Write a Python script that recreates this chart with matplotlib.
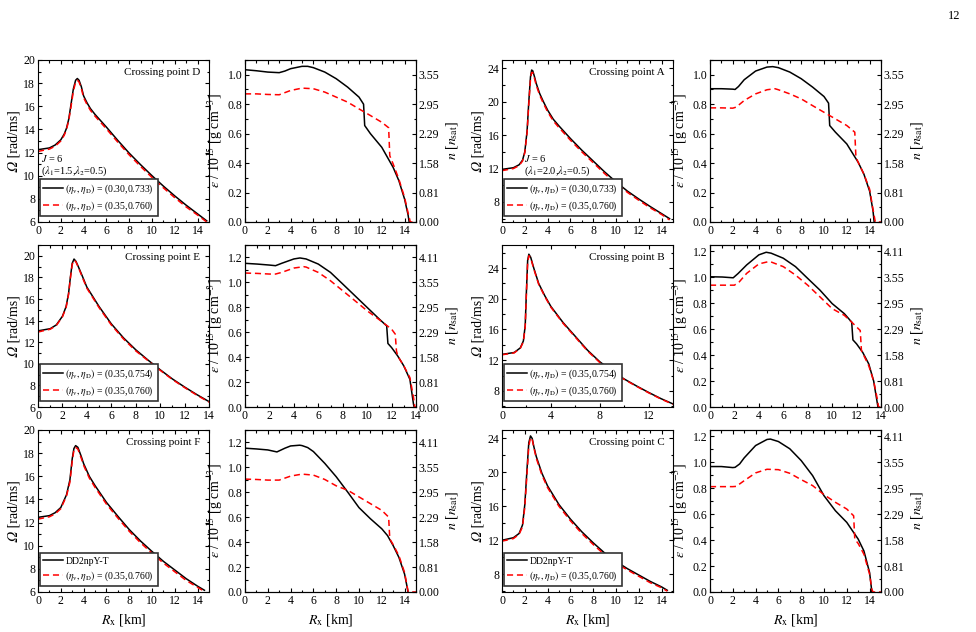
import matplotlib
matplotlib.use('Agg')
import matplotlib.pyplot as plt
from matplotlib.ticker import MultipleLocator, AutoMinorLocator, FormatStrFormatter

plt.rcParams['font.family'] = ['Liberation Serif', 'STIXGeneral', 'DejaVu Serif']
plt.rcParams['mathtext.fontset'] = 'stix'

# ---------------- Omega data ----------------
omD_x = [0, 1, 1.5, 2, 2.3, 2.5, 2.7, 2.9, 3.1, 3.3, 3.45, 3.6, 3.8, 4.0, 4.3, 4.6, 5, 5.5, 6, 7, 8, 9, 10, 11, 12, 13, 14, 14.8]
omD_k = [12.25, 12.4, 12.65, 13.1, 13.6, 14.1, 14.9, 16.2, 17.5, 18.25, 18.4, 18.25, 17.7, 16.9, 16.3, 15.8, 15.3, 14.75, 14.2, 13.05, 11.95, 10.95, 10.0, 9.1, 8.25, 7.45, 6.7, 6.1]
omD_r = [12.1, 12.3, 12.55, 13.0, 13.5, 14.0, 14.8, 16.0, 17.3, 18.1, 18.25, 18.1, 17.55, 16.75, 16.15, 15.65, 15.15, 14.6, 14.05, 12.9, 11.8, 10.8, 9.85, 8.95, 8.1, 7.3, 6.6, 6.0]

omA_x = [0, 1, 1.5, 1.8, 2.0, 2.2, 2.35, 2.5, 2.6, 2.7, 2.85, 3.0, 3.3, 3.6, 4.0, 4.5, 5, 6, 7, 8, 9, 10, 11, 12, 13, 14, 14.7]
omA_k = [11.9, 12.1, 12.45, 13.0, 14.0, 16.5, 20.0, 23.0, 23.8, 23.7, 23.0, 22.2, 21.0, 20.1, 19.0, 17.9, 17.1, 15.6, 14.2, 12.9, 11.6, 10.4, 9.3, 8.35, 7.45, 6.6, 6.0]
omA_r = [11.75, 12.0, 12.35, 12.9, 13.9, 16.3, 19.7, 22.7, 23.5, 23.5, 22.8, 22.0, 20.8, 19.9, 18.8, 17.7, 16.9, 15.4, 14.0, 12.7, 11.4, 10.2, 9.15, 8.2, 7.3, 6.5, 5.85]

omE_x = [0, 1, 1.5, 2, 2.3, 2.5, 2.65, 2.8, 2.95, 3.1, 3.3, 3.6, 4, 4.5, 5, 6, 7, 8, 9, 10, 11, 12, 13, 14]
omE_k = [13.05, 13.25, 13.6, 14.4, 15.3, 16.5, 18.0, 19.3, 19.7, 19.5, 19.0, 18.2, 17.1, 16.2, 15.3, 13.7, 12.4, 11.3, 10.35, 9.45, 8.6, 7.85, 7.15, 6.5]
omE_r = [12.95, 13.2, 13.55, 14.35, 15.2, 16.4, 17.9, 19.2, 19.6, 19.45, 18.95, 18.1, 17.0, 16.1, 15.2, 13.6, 12.3, 11.2, 10.3, 9.4, 8.55, 7.8, 7.1, 6.45]

omB_x = [0, 1, 1.5, 1.75, 1.9, 2.0, 2.1, 2.2, 2.35, 2.6, 3, 3.5, 4, 5, 6, 7, 8, 9, 10, 11, 12, 13, 14]
omB_k = [12.75, 13.0, 13.6, 14.5, 16.5, 21.0, 25.0, 25.8, 25.4, 24.0, 22.0, 20.4, 19.0, 16.9, 15.1, 13.3, 11.8, 10.6, 9.55, 8.65, 7.8, 7.0, 6.3]
omB_r = [12.7, 12.95, 13.55, 14.4, 16.3, 20.7, 24.7, 25.6, 25.3, 23.9, 21.9, 20.3, 18.9, 16.8, 15.0, 13.2, 11.7, 10.5, 9.5, 8.6, 7.75, 6.95, 6.25]

omF_x = [0, 1, 1.5, 2, 2.5, 2.8, 3.0, 3.15, 3.3, 3.5, 3.8, 4, 4.5, 5, 6, 7, 8, 9, 10, 11, 12, 13, 14, 14.6]
omF_k = [12.45, 12.6, 12.85, 13.3, 14.4, 15.7, 17.5, 18.4, 18.65, 18.5, 17.7, 17.1, 16.0, 15.2, 13.75, 12.55, 11.4, 10.4, 9.5, 8.65, 7.9, 7.15, 6.5, 6.15]
omF_r = [12.3, 12.5, 12.75, 13.2, 14.3, 15.5, 17.3, 18.25, 18.5, 18.35, 17.55, 16.95, 15.85, 15.05, 13.6, 12.4, 11.25, 10.25, 9.35, 8.5, 7.75, 7.0, 6.4, 6.05]

omC_x = [0, 1, 1.5, 1.8, 2.0, 2.2, 2.35, 2.5, 2.65, 2.8, 3, 3.5, 4, 5, 6, 7, 8, 9, 10, 11, 12, 13, 14, 14.5]
omC_k = [12.0, 12.3, 12.8, 13.8, 16.2, 20.5, 23.5, 24.3, 24.0, 23.0, 21.9, 19.9, 18.4, 16.2, 14.5, 13.0, 11.7, 10.5, 9.5, 8.65, 7.9, 7.15, 6.5, 6.1]
omC_r = [11.9, 12.2, 12.7, 13.6, 15.9, 20.0, 23.1, 24.1, 23.9, 22.9, 21.7, 19.7, 18.2, 16.0, 14.3, 12.8, 11.5, 10.3, 9.3, 8.5, 7.75, 7.0, 6.4, 6.0]

# ---------------- energy density data ----------------
epD_xk = [0, 1, 2, 3, 3.5, 4, 5, 5.5, 6, 7, 8, 9, 10, 10.4, 10.5, 11, 12, 13, 13.5, 14, 14.3, 14.4]
epD_k = [1.034, 1.027, 1.018, 1.014, 1.025, 1.041, 1.057, 1.057, 1.048, 1.018, 0.973, 0.916, 0.848, 0.80, 0.655, 0.60, 0.507, 0.37, 0.28, 0.155, 0.05, 0.0]
epD_xr = [0, 1, 2, 3, 4, 5, 6, 7, 8, 9, 10, 11, 12, 12.6, 12.7, 13, 13.5, 14, 14.3, 14.5, 15]
epD_r = [0.870, 0.870, 0.866, 0.864, 0.893, 0.909, 0.905, 0.882, 0.848, 0.814, 0.768, 0.723, 0.677, 0.64, 0.45, 0.393, 0.29, 0.166, 0.064, 0.0, 0.0]

epA_xk = [0, 1, 2, 2.2, 2.5, 3, 4, 5, 5.5, 6, 7, 8, 9, 10, 10.4, 10.5, 11, 12, 13, 13.5, 14, 14.3, 14.4]
epA_k = [0.905, 0.905, 0.902, 0.90, 0.92, 0.966, 1.025, 1.052, 1.055, 1.048, 1.018, 0.973, 0.916, 0.852, 0.807, 0.655, 0.61, 0.53, 0.405, 0.325, 0.21, 0.075, 0.0]
epA_xr = [0, 1, 2, 2.3, 3, 4, 5, 5.7, 6, 7, 8, 9, 10, 11, 12, 12.7, 12.8, 13, 13.5, 14, 14.3, 14.5, 15]
epA_r = [0.775, 0.775, 0.773, 0.78, 0.825, 0.87, 0.898, 0.905, 0.898, 0.870, 0.836, 0.79, 0.745, 0.70, 0.655, 0.61, 0.44, 0.405, 0.325, 0.223, 0.086, 0.0, 0.0]

epE_xk = [0, 1, 2, 2.5, 3, 4, 4.5, 5, 6, 7, 8, 9, 10, 11, 11.6, 11.7, 12, 12.5, 13, 13.5, 13.8, 13.85]
epE_k = [1.153, 1.147, 1.139, 1.134, 1.153, 1.188, 1.196, 1.188, 1.147, 1.08, 0.987, 0.893, 0.799, 0.705, 0.651, 0.51, 0.477, 0.41, 0.33, 0.222, 0.02, 0.0]
epE_xr = [0, 1, 2, 2.5, 3, 4, 4.8, 5, 6, 7, 8, 9, 10, 11, 12, 12.3, 12.4, 12.5, 13, 13.5, 13.8, 13.9, 14]
epE_r = [1.075, 1.072, 1.067, 1.067, 1.08, 1.115, 1.126, 1.123, 1.08, 1.013, 0.933, 0.853, 0.772, 0.70, 0.625, 0.585, 0.45, 0.41, 0.33, 0.236, 0.075, 0.0, 0.0]

epB_xk = [0, 1, 1.9, 2.3, 3, 4, 4.6, 5, 6, 7, 8, 9, 10, 11, 11.6, 11.7, 12, 12.5, 13, 13.4, 13.75]
epB_k = [1.005, 1.003, 0.997, 1.03, 1.096, 1.174, 1.194, 1.187, 1.148, 1.083, 0.992, 0.902, 0.798, 0.72, 0.655, 0.518, 0.487, 0.422, 0.332, 0.2, 0.0]
epB_xr = [0, 1, 2, 2.4, 3, 4, 4.8, 5, 6, 7, 8, 9, 10, 11, 11.6, 12.3, 12.4, 13, 13.4, 13.7, 13.8, 14]
epB_r = [0.94, 0.94, 0.94, 0.966, 1.031, 1.104, 1.122, 1.119, 1.083, 1.018, 0.94, 0.85, 0.759, 0.707, 0.655, 0.59, 0.435, 0.318, 0.2, 0.06, 0.0, 0.0]

epF_xk = [0, 1, 2, 2.8, 3.5, 4, 4.8, 5, 5.5, 6, 7, 8, 9, 10, 11, 12, 12.5, 13, 13.5, 14, 14.2, 14.3]
epF_k = [1.154, 1.148, 1.14, 1.124, 1.154, 1.172, 1.178, 1.175, 1.159, 1.127, 1.032, 0.925, 0.803, 0.677, 0.588, 0.507, 0.453, 0.372, 0.278, 0.143, 0.05, 0.0]
epF_xr = [0, 1, 2, 3, 4, 5, 6, 7, 8, 9, 10, 11, 12, 12.6, 12.7, 13, 13.5, 14, 14.3, 14.35, 15]
epF_r = [0.906, 0.903, 0.898, 0.898, 0.93, 0.946, 0.938, 0.903, 0.852, 0.817, 0.763, 0.709, 0.655, 0.601, 0.426, 0.38, 0.291, 0.156, 0.008, 0.0, 0.0]

epC_xk = [0, 1, 2, 2.2, 2.6, 3, 4, 5, 5.3, 6, 7, 8, 9, 10, 11, 12, 12.5, 13, 13.5, 14, 14.2]
epC_k = [0.968, 0.968, 0.96, 0.962, 0.988, 1.035, 1.13, 1.177, 1.18, 1.161, 1.105, 1.014, 0.898, 0.743, 0.627, 0.537, 0.472, 0.408, 0.317, 0.15, 0.0]
epC_xr = [0, 1, 2, 2.3, 3, 4, 5, 6, 7, 8, 9, 10, 11, 12, 12.6, 12.7, 13, 13.5, 14, 14.2, 14.3, 15]
epC_r = [0.813, 0.813, 0.813, 0.815, 0.859, 0.919, 0.947, 0.944, 0.916, 0.867, 0.821, 0.751, 0.692, 0.64, 0.588, 0.408, 0.374, 0.292, 0.137, 0.02, 0.0, 0.0]

# ---------------- labels ----------------
n_labels_short = ['0.00', '0.81', '1.58', '2.29', '2.95', '3.55']
n_labels_long = ['0.00', '0.81', '1.58', '2.29', '2.95', '3.55', '4.11']
lab_a = r'$(\eta_{\rm v},\eta_{\rm D})$ = (0.30,0.733)'
lab_b = r'$(\eta_{\rm v},\eta_{\rm D})$ = (0.35,0.754)'
lab_c = 'DD2npY-T'
lab_red = r'$(\eta_{\rm v},\eta_{\rm D})$ = (0.35,0.760)'

W, H = 976, 632
fig = plt.figure(figsize=(W / 100, H / 100), dpi=100)

col_left = [38, 245, 502, 710]
row_top = [60, 245, 430]
aw, ah = 171, 162


def make_ax(r, c):
    l = col_left[c] / W
    b = 1 - (row_top[r] + ah) / H
    return fig.add_axes([l, b, aw / W, ah / H])


def style(ax, right=True):
    ax.tick_params(which='both', direction='in', top=True, right=right, labelsize=8.5,
                   width=0.8, pad=2)
    ax.tick_params(which='major', length=3)
    ax.tick_params(which='minor', length=1.8)
    for s in ax.spines.values():
        s.set_linewidth(0.8)


omega_sets = [
    (omD_x, omD_k, omD_r, (0, 15), 2, (6, 20), 2, lab_a, 'D', 'J15'),
    (omA_x, omA_k, omA_r, (0, 15), 2, (5.6, 25), 4, lab_a, 'A', 'J20'),
    (omE_x, omE_k, omE_r, (0, 14), 2, (6, 21), 2, lab_b, 'E', None),
    (omB_x, omB_k, omB_r, (0, 14), 4, (5.9, 27), 4, lab_b, 'B', None),
    (omF_x, omF_k, omF_r, (0, 15), 2, (6, 20), 2, lab_c, 'F', None),
    (omC_x, omC_k, omC_r, (0, 15), 2, (5.9, 25), 4, lab_c, 'C', None),
]
eps_sets = [
    (epD_xk, epD_k, epD_xr, epD_r, (0, 15), (0, 1.1), n_labels_short),
    (epA_xk, epA_k, epA_xr, epA_r, (0, 15), (0, 1.1), n_labels_short),
    (epE_xk, epE_k, epE_xr, epE_r, (0, 14), (0, 1.3), n_labels_long),
    (epB_xk, epB_k, epB_xr, epB_r, (0, 14), (0, 1.25), n_labels_long),
    (epF_xk, epF_k, epF_xr, epF_r, (0, 15), (0, 1.3), n_labels_long),
    (epC_xk, epC_k, epC_xr, epC_r, (0, 15), (0, 1.25), n_labels_long),
]

for i in range(6):
    r, pair = divmod(i, 2)
    c_om = pair * 2
    c_ep = pair * 2 + 1

    # Omega panel
    x, yk, yr, xl, xm, yl, ym, lab, cp, jtag = omega_sets[i]
    ax = make_ax(r, c_om)
    ax.plot(x, yk, color='black', lw=1.1, label=lab)
    ax.plot(x, yr, color='red', lw=1.1, ls=(0, (4, 2.5)), label=lab_red)
    ax.set_xlim(*xl)
    ax.set_ylim(*yl)
    ax.xaxis.set_major_locator(MultipleLocator(xm))
    ax.xaxis.set_minor_locator(AutoMinorLocator(2))
    ax.yaxis.set_major_locator(MultipleLocator(ym))
    ax.yaxis.set_minor_locator(AutoMinorLocator(2))
    style(ax)
    ax.set_ylabel('\U0001D6FA [rad/ms]', fontsize=10, labelpad=2)
    ax.text(0.95, 0.92, 'Crossing point ' + cp, transform=ax.transAxes,
            ha='right', va='center', fontsize=8)
    leg = ax.legend(loc='lower left', bbox_to_anchor=(0.01, 0.035), fontsize=7,
                    frameon=True, fancybox=False, borderaxespad=0.0,
                    handlelength=2.0, handletextpad=0.3,
                    borderpad=0.35, labelspacing=0.4, framealpha=1)
    leg.get_frame().set_edgecolor('#333333')
    leg.get_frame().set_linewidth(1.2)
    if jtag == 'J15':
        ax.text(0.02, 0.395, r'$J$ = 6', transform=ax.transAxes, fontsize=7.5, va='center')
        ax.text(0.02, 0.315, r'($\lambda_1$=1.5,$\lambda_2$=0.5)', transform=ax.transAxes,
                fontsize=7.5, va='center')
    elif jtag == 'J20':
        ax.text(0.13, 0.395, r'$J$ = 6', transform=ax.transAxes, fontsize=7.5, va='center')
        ax.text(0.13, 0.315, r'($\lambda_1$=2.0,$\lambda_2$=0.5)', transform=ax.transAxes,
                fontsize=7.5, va='center')
    if r == 2:
        ax.set_xlabel(r'$R_{\rm x}$ [km]', fontsize=10, labelpad=4)

    # Energy density panel
    xk, ek, xr, er, exl, eyl, nlab = eps_sets[i]
    ax = make_ax(r, c_ep)
    ax.plot(xk, ek, color='black', lw=1.1)
    ax.plot(xr, er, color='red', lw=1.1, ls=(0, (4, 2.5)))
    ax.set_xlim(*exl)
    ax.set_ylim(*eyl)
    ax.xaxis.set_major_locator(MultipleLocator(2))
    ax.xaxis.set_minor_locator(AutoMinorLocator(2))
    ax.yaxis.set_major_locator(MultipleLocator(0.2))
    ax.yaxis.set_minor_locator(AutoMinorLocator(2))
    style(ax, right=False)
    ax.set_ylabel(r'$\varepsilon$ / 10$^{15}$ [g cm$^{-3}$]', fontsize=10, labelpad=2)
    ax.yaxis.set_major_formatter(FormatStrFormatter('%.1f'))
    ax2 = ax.twinx()
    ax2.set_ylim(*eyl)
    ticks = [0.2 * k for k in range(len(nlab))]
    ax2.set_yticks(ticks)
    ax2.set_yticklabels(nlab)
    ax2.yaxis.set_minor_locator(AutoMinorLocator(2))
    ax2.tick_params(which='both', direction='in', labelsize=8.5, width=0.8, pad=2)
    ax2.tick_params(which='major', length=3)
    ax2.tick_params(which='minor', length=1.8)
    ax2.set_ylabel(r'$n$ [$n_{\rm sat}$]', fontsize=10, labelpad=3)
    if r == 2:
        ax.set_xlabel(r'$R_{\rm x}$ [km]', fontsize=10, labelpad=4)

fig.text(0.984, 0.975, '12', ha='right', va='center', fontsize=9)

fig.savefig('out.png', dpi=100)
